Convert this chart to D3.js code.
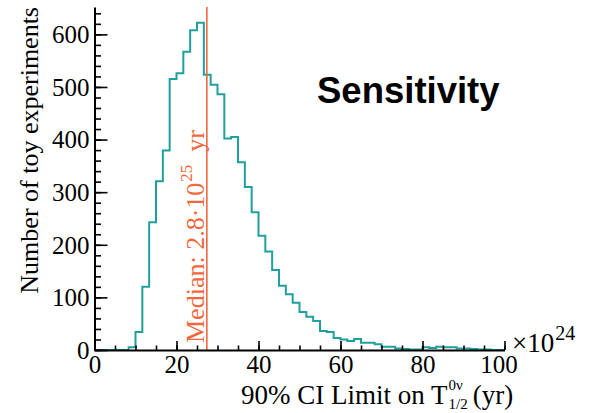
<!DOCTYPE html>
<html><head><meta charset="utf-8">
<script src="https://cdn.jsdelivr.net/npm/d3@7"></script>
<style>body{margin:0;background:#fff}svg{display:block}</style>
</head><body>
<svg id="c" width="590" height="413"></svg>
<script>
// ---- data ----
const binRange = [0, 100];
const binCount = 60;
const counts = [0,0,0,0,0,5,34,120,243,321,379,515,526,567,608,622,523,504,486,402,405,357,310,262,217,187,152,122,106,90,72,63,55,36,34,23,20,17,21,14,14,11,6,6,3,2,1,1,5,4,6,5,5,3,3,2,1,1,0,0];
const medianValue = 27.4;
const xTicks = [0,20,40,60,80,100];
const xMinorTicks = d3.range(0, 101, 5);
const yTicks = [0,100,200,300,400,500,600];
const yMinorTicks = d3.range(0, 641, 20);
const yMax = 652;
const xTitle = ["90% CI Limit on T", "0ν", "1/2", "(yr)"];
const yTitle = "Number of toy experiments";
const medianLabel = ["Median: 2.8·10", "25", "yr"];
const xExponent = ["×10", "24"];
const headline = "Sensitivity";

// ---- layout ----
const serif = "'Liberation Serif','Times New Roman',serif";
const teal = "#1fa09c", orange = "#f0683c";
const svg = d3.select("#c");
const x = d3.scaleLinear().domain(binRange).range([94.5, 504.5]);
const y = d3.scaleLinear().domain([0, yMax]).range([350, 7]);

// histogram
const bw = (binRange[1] - binRange[0]) / binCount;
const pts = [[binRange[0], 0]];
counts.forEach((c, i) => { pts.push([binRange[0] + i * bw, c]); pts.push([binRange[0] + (i + 1) * bw, c]); });
pts.push([binRange[1], 0]);
svg.append("path").datum(pts)
  .attr("d", d3.line().x(d => x(d[0])).y(d => y(d[1])))
  .attr("fill", "none").attr("stroke", teal).attr("stroke-width", 2);

// median line
svg.append("line").attr("x1", x(medianValue)).attr("x2", x(medianValue))
  .attr("y1", y(0)).attr("y2", y(yMax)).attr("stroke", orange).attr("stroke-width", 1.6);

// minor ticks
svg.append("g").attr("transform", `translate(0,${y(0)})`)
  .call(d3.axisBottom(x).tickValues(xMinorTicks).tickSize(-4.5).tickFormat(""))
  .call(g => g.select(".domain").remove())
  .selectAll("line").attr("stroke", "#000").attr("stroke-width", 1.6);
svg.append("g").attr("transform", `translate(${x(0)},0)`)
  .call(d3.axisLeft(y).tickValues(yMinorTicks).tickSize(-6.5).tickFormat(""))
  .call(g => g.select(".domain").remove())
  .selectAll("line").attr("stroke", "#000").attr("stroke-width", 1.6);

// major axes
const xa = svg.append("g").attr("transform", `translate(0,${y(0)})`)
  .call(d3.axisBottom(x).tickValues(xTicks).tickSize(-9).tickSizeOuter(0).tickPadding(5).tickFormat(d3.format("d")));
const ya = svg.append("g").attr("transform", `translate(${x(0)},0)`)
  .call(d3.axisLeft(y).tickValues(yTicks).tickSize(-13).tickSizeOuter(0).tickPadding(5).tickFormat(d3.format("d")));
[xa, ya].forEach(a => {
  a.selectAll("line").attr("stroke", "#000").attr("stroke-width", 1.6);
  a.select(".domain").attr("stroke", "#000").attr("stroke-width", 2);
  a.selectAll("text").attr("font-family", serif).attr("font-size", 25).attr("fill", "#000");
});
xa.selectAll(".tick text").filter(d => d === 100).attr("dx", -6);
ya.selectAll(".tick text").attr("dy", "0.33em");

// median label (rotated)
const mg = svg.append("g").attr("transform", "translate(204,343) rotate(-90)");
const m1 = mg.append("text").attr("x", 0).attr("y", 0).attr("font-family", serif).attr("font-size", 26).attr("fill", orange).text(medianLabel[0]);
const w1 = m1.node().getComputedTextLength();
const m2 = mg.append("text").attr("x", w1 + 1).attr("y", -12).attr("font-family", serif).attr("font-size", 17).attr("fill", orange).text(medianLabel[1]);
const w2 = m2.node().getComputedTextLength();
mg.append("text").attr("x", w1 + 1 + w2 + 13).attr("y", 0).attr("font-family", serif).attr("font-size", 26).attr("fill", orange).text(medianLabel[2]);

// y title
svg.append("text").attr("transform", "translate(38,7) rotate(-90)")
  .attr("text-anchor", "end").attr("font-family", serif).attr("font-size", 26).attr("fill", "#000").text(yTitle);

// x title
const t1 = svg.append("text").attr("x", 241).attr("y", 404).attr("font-family", serif).attr("font-size", 27).attr("fill", "#000").text(xTitle[0]);
const tw = t1.node().getComputedTextLength();
const t2 = svg.append("text").attr("x", 241 + tw + 1).attr("y", 390).attr("font-family", serif).attr("font-size", 15).attr("fill", "#000").text(xTitle[1]);
const t3 = svg.append("text").attr("x", 241 + tw + 1).attr("y", 409).attr("font-family", serif).attr("font-size", 15).attr("fill", "#000").text(xTitle[2]);
const sw = Math.max(t2.node().getComputedTextLength(), t3.node().getComputedTextLength());
svg.append("text").attr("x", 241 + tw + 1 + sw + 5).attr("y", 404).attr("font-family", serif).attr("font-size", 27).attr("fill", "#000").text(xTitle[3]);

// exponent
const e1 = svg.append("text").attr("x", 512).attr("y", 352).attr("font-family", serif).attr("font-size", 27).attr("fill", "#000").text(xExponent[0]);
svg.append("text").attr("x", 512 + e1.node().getComputedTextLength() + 1).attr("y", 340).attr("font-family", serif).attr("font-size", 20).attr("fill", "#000").text(xExponent[1]);

// headline
svg.append("text").attr("x", 317).attr("y", 103).attr("font-family", "'Liberation Sans',Arial,sans-serif")
  .attr("font-weight", "bold").attr("font-size", 36.5).attr("fill", "#000").text(headline);
</script>
</body></html>
